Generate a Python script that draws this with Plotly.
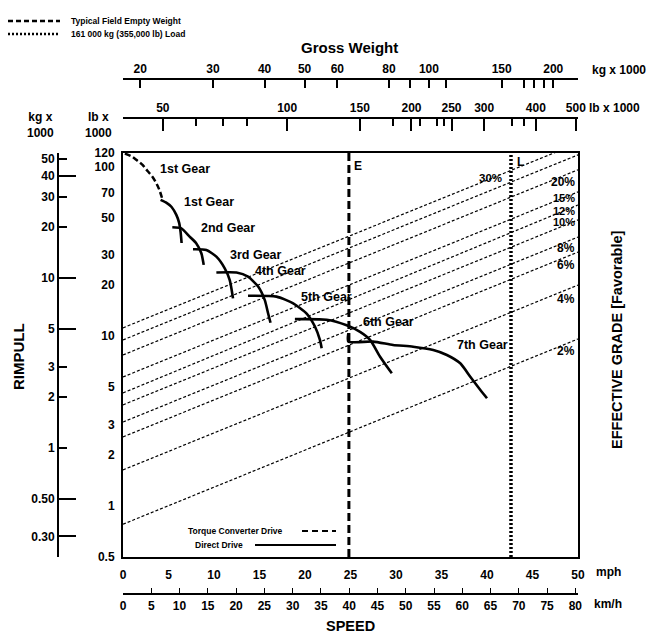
import math
import plotly.graph_objects as go

# ---------------- data ----------------
# speed axis (mph) and rimpull (lb x 1000)
speed_ticks_mph = [0, 5, 10, 15, 20, 25, 30, 35, 40, 45, 50]
speed_ticks_kmh = [0, 5, 10, 15, 20, 25, 30, 35, 40, 45, 50, 55, 60, 65, 70, 75, 80]
rimpull_ticks_lb = [120, 100, 70, 50, 30, 20, 10, 5, 3, 2, 1, 0.5]
rimpull_ticks_kg = [50, 40, 30, 20, 10, 5, 3, 2, 1, 0.5, 0.3]
rimpull_text_kg = ["50", "40", "30", "20", "10", "5", "3", "2", "1", "0.50", "0.30"]
rimpull_long_kg = [40, 10, 5, 0.5, 0.3]
weight_ticks_kg = [20, 30, 40, 50, 60, 80, 100, 150, 200]
weight_minor_kg = [90, 110, 170, 180, 190]
weight_ticks_lb = [50, 100, 150, 200, 250, 300, 400, 500]
weight_minor_lb = [60, 70, 80, 180, 210, 230, 240, 350, 375]

# torque converter drive, 1st gear
tc1_mph = [0.2, 0.9, 1.5, 2.15, 2.7, 3.25, 3.7, 4.0, 4.35]
tc1_klb = [119, 115, 109, 102, 94, 86.7, 78.9, 72.7, 63.5]

# direct drive gears
gear1_mph = [4.13, 4.79, 5.34, 5.86, 6.17, 6.33, 6.44]
gear1_klb = [63.5, 61.0, 57.7, 51.8, 46.5, 41.1, 35.4]
gear2_mph = [5.42, 6.41, 7.32, 8.06, 8.61, 8.87]
gear2_klb = [43.8, 43.2, 38.6, 35.2, 30.8, 26.3]
gear3_mph = [7.69, 9.16, 10.26, 11.18, 11.73, 12.09]
gear3_klb = [32.5, 32.2, 29.4, 25.1, 21.4, 16.7]
gear4_mph = [10.26, 12.47, 13.74, 14.85, 15.58, 15.95, 16.21]
gear4_klb = [23.7, 23.7, 22.4, 19.6, 16.3, 13.6, 12.0]
gear5_mph = [13.74, 16.87, 18.70, 20.18, 21.09, 21.64, 21.83]
gear5_klb = [17.3, 17.1, 15.6, 13.6, 11.4, 9.5, 8.5]
gear6_mph = [18.89, 22.38, 24.58, 26.05, 27.15, 28.25, 29.54]
gear6_klb = [12.6, 12.5, 11.6, 10.6, 9.5, 7.57, 6.04]
gear7_mph = [24.76, 24.76, 27.48, 29.68, 31.88, 34.09, 35.59, 37.06, 38.16, 39.27, 40.0]
gear7_klb = [10.4, 9.29, 9.29, 8.88, 8.67, 8.29, 7.75, 6.92, 5.77, 4.82, 4.31]

gear_names = ["1st Gear", "1st Gear", "2nd Gear", "3rd Gear", "4th Gear",
              "5th Gear", "6th Gear", "7th Gear"]
gear_label_mph = [6.77, 9.42, 11.51, 14.59, 17.35, 22.41, 29.13, 39.48]
gear_label_klb = [96.7, 61.8, 43.4, 30.1, 24.2, 17.0, 12.1, 8.89]

# effective grade lines: rimpull at 0 mph and at 50 mph
grade_names = ["30%", "25%", "20%", "15%", "12%", "10%", "8%", "6%", "4%", "2%"]
grade_left_klb = [11.2, 9.5, 7.75, 5.75, 4.63, 3.94, 3.12, 2.55, 1.63, 0.78]
grade_right_klb = [137, 117, 95.5, 70.8, 59.3, 48.4, 38.4, 31.3, 20.0, 9.63]
grade_label_text = ["20%", "15%", "12%", "10%", "8%", "6%", "4%", "2%"]
grade_label_klb = [81.0, 65.0, 55.0, 47.0, 33.1, 26.3, 16.6, 8.18]
grade_label_size = [12, 11, 11, 11, 12, 12, 12, 12]
grade30_label = ("30%", 40.4, 85.5)

# gross weight markers (kg x 1000)
empty_weight_kg = 64.0
loaded_weight_kg = 158.0
legend_names = ["Typical Field Empty Weight", "161 000 kg (355,000 lb) Load"]

KG_PER_LB = 0.45359237
KMH_PER_MPH = 1.609344

# ---------------- layout geometry ----------------
W, H = 657, 637
def px(x):
    return x / W
def py(y):
    return 1 - y / H

x_dom = [px(123), px(578)]
y_dom = [py(557), py(153)]
y_range = [math.log10(0.5), math.log10(120)]
kg_y_range = [math.log10(0.5 * KG_PER_LB), math.log10(120 * KG_PER_LB)]
wt_left = 1.2592
wt_span = 1.1017
wkg_range = [wt_left, wt_left + wt_span]
wlb_range = [wt_left + math.log10(1 / KG_PER_LB), wt_left + wt_span + math.log10(1 / KG_PER_LB)]

FONT = "Liberation Sans, Arial, Helvetica, sans-serif"
def f(size):
    return dict(family=FONT, size=size, color="black", weight="bold")

E_DASH = "8px,4px"
L_DASH = "2px,2px"

fig = go.Figure()

# grade lines
for g, l, r in zip(grade_names, grade_left_klb, grade_right_klb):
    fig.add_trace(go.Scatter(x=[0, 50], y=[l, r], mode="lines",
                             line=dict(color="black", width=1.2, dash="3px,2px"),
                             showlegend=False, hoverinfo="skip", name=g))

# torque converter
fig.add_trace(go.Scatter(x=tc1_mph, y=tc1_klb, mode="lines",
                         line=dict(color="black", width=2.5, dash="6px,3px", shape="spline"),
                         showlegend=False, hoverinfo="skip"))
for xs, ys in [(gear1_mph, gear1_klb), (gear2_mph, gear2_klb), (gear3_mph, gear3_klb),
               (gear4_mph, gear4_klb), (gear5_mph, gear5_klb), (gear6_mph, gear6_klb),
               (gear7_mph, gear7_klb)]:
    fig.add_trace(go.Scatter(x=xs, y=ys, mode="lines",
                             line=dict(color="black", width=2.6, shape="spline", smoothing=0.6),
                             showlegend=False, hoverinfo="skip"))

# E and L lines on the gross weight axis
fig.add_trace(go.Scatter(x=[empty_weight_kg, empty_weight_kg], y=[0.5, 120], xaxis="x2", yaxis="y",
                         mode="lines", line=dict(color="black", width=3, dash=E_DASH),
                         name=legend_names[0], hoverinfo="skip", showlegend=False))
fig.add_trace(go.Scatter(x=[loaded_weight_kg, loaded_weight_kg], y=[0.5, 120], xaxis="x2", yaxis="y",
                         mode="lines", line=dict(color="black", width=3.5, dash=L_DASH),
                         name=legend_names[1], hoverinfo="skip", showlegend=False))

# anchor traces for secondary scales (invisible)
for xa, ya in [("x3", "y"), ("x4", "y"), ("x", "y2"), ("x", "y3")]:
    fig.add_trace(go.Scatter(x=[20 if xa != "x3" else 100], y=[1], xaxis=xa, yaxis=ya, mode="markers",
                             marker=dict(opacity=0), showlegend=False, hoverinfo="skip"))

ann = []
for t, xm, yk in zip(gear_names, gear_label_mph, gear_label_klb):
    ann.append(dict(x=xm, y=math.log10(yk), xref="x", yref="y", text=t, showarrow=False, font=f(12.5)))
for t, yk, s in zip(grade_label_text, grade_label_klb, grade_label_size):
    ann.append(dict(x=49.8, y=math.log10(yk), xref="x", yref="y", text=t, showarrow=False,
                    xanchor="right", font=f(s), borderpad=0))
ann.append(dict(x=grade30_label[1], y=math.log10(grade30_label[2]), xref="x", yref="y",
                text=grade30_label[0], showarrow=False, font=f(11.5)))
ann.append(dict(x=math.log10(empty_weight_kg), y=math.log10(100), xref="x2", yref="y", text="E",
                showarrow=False, xanchor="left", xshift=3, font=f(12)))
ann.append(dict(x=math.log10(loaded_weight_kg), y=math.log10(106), xref="x2", yref="y", text="L",
                showarrow=False, xanchor="left", xshift=4, font=f(12)))

def pa(x, y, text, size, xanchor="center", yanchor="middle", angle=0):
    ann.append(dict(x=px(x), y=py(y), xref="paper", yref="paper", text=text, showarrow=False,
                    xanchor=xanchor, yanchor=yanchor, textangle=angle, font=f(size)))

pa(349, 47, "Gross Weight", 15)
pa(590, 70, "kg x 1000", 12, xanchor="left")
pa(587, 108, "lb x 1000", 12, xanchor="left")
pa(40, 125, "kg x<br>1000", 12)
pa(98, 125, "lb x<br>1000", 12)
pa(594, 572, "mph", 12, xanchor="left")
pa(592, 604, "km/h", 12, xanchor="left")
pa(350, 626, "SPEED", 14.5)
pa(18, 357, "RIMPULL", 15, angle=-90)
pa(617, 340, "EFFECTIVE GRADE [Favorable]", 14.5, angle=-90)
pa(285, 531, "Torque Converter Drive", 8.5, xanchor="right")
pa(245, 545, "Direct Drive", 8.5, xanchor="right")
pa(69, 21, legend_names[0], 8.5, xanchor="left")
pa(69, 34, legend_names[1], 8.5, xanchor="left")

shapes = [
    dict(type="line", xref="paper", yref="paper", x0=px(302), x1=px(336), y0=py(531), y1=py(531),
         line=dict(color="black", width=2.2, dash="6px,4px")),
    dict(type="line", xref="paper", yref="paper", x0=px(255), x1=px(336), y0=py(545), y1=py(545),
         line=dict(color="black", width=2.2)),
    dict(type="line", xref="paper", yref="paper", x0=px(8), x1=px(60), y0=py(21), y1=py(21),
         line=dict(color="black", width=2.5, dash="5px,3px")),
    dict(type="line", xref="paper", yref="paper", x0=px(8), x1=px(60), y0=py(34), y1=py(34),
         line=dict(color="black", width=2.5, dash=L_DASH)),
]

fig.update_layout(
    width=W, height=H, autosize=False,
    margin=dict(l=0, r=0, t=0, b=0, pad=0, autoexpand=False),
    paper_bgcolor="white", plot_bgcolor="white",
    font=dict(family=FONT, color="black"),
    showlegend=False,
    annotations=ann, shapes=shapes,
    xaxis=dict(domain=x_dom, range=[0, 50], showgrid=False, zeroline=False,
               showline=True, mirror=True, linecolor="black", linewidth=2,
               tickvals=speed_ticks_mph, ticks="", tickfont=f(12), ticklabelstandoff=6),
    yaxis=dict(domain=y_dom, type="log", range=y_range, showgrid=False, zeroline=False,
               showline=True, mirror=True, linecolor="black", linewidth=2,
               tickvals=rimpull_ticks_lb, ticktext=[str(v) for v in rimpull_ticks_lb],
               ticks="", tickfont=f(12), ticklabelstandoff=4),
    xaxis2=dict(overlaying="x", anchor="free", position=py(79), side="top", type="log",
                range=wkg_range, showgrid=False, zeroline=False, showline=True,
                linecolor="black", linewidth=1.5, ticks="inside", ticklen=8, tickwidth=1.5,
                tickcolor="black", tickvals=[18.25] + weight_ticks_kg + [229],
                ticktext=[""] + [str(v) for v in weight_ticks_kg] + [""], tickfont=f(12),
                minor=dict(tickvals=weight_minor_kg, ticks="inside", ticklen=8, tickcolor="black")),
    xaxis3=dict(overlaying="x", anchor="free", position=py(118), side="top", type="log",
                range=wlb_range, showgrid=False, zeroline=False, showline=True,
                linecolor="black", linewidth=1.5, ticks="inside", ticklen=12, tickwidth=1.5,
                tickcolor="black", tickvals=weight_ticks_lb,
                ticktext=[str(v) for v in weight_ticks_lb], tickfont=f(12),
                minor=dict(tickvals=weight_minor_lb, ticks="inside", ticklen=7, tickcolor="black")),
    xaxis4=dict(overlaying="x", anchor="free", position=py(594), side="bottom",
                range=[0, 50 * KMH_PER_MPH], showgrid=False, zeroline=False, showline=True,
                linecolor="black", linewidth=1.5, ticks="inside", ticklen=5, tickwidth=1.2,
                tickcolor="black", tickvals=speed_ticks_kmh, tickfont=f(12), ticklabelstandoff=1),
    yaxis2=dict(overlaying="y", anchor="free", position=px(58), side="left", type="log",
                range=kg_y_range, showgrid=False, zeroline=False, showline=True,
                linecolor="black", linewidth=2, ticks="inside", ticklen=8, tickwidth=1.5,
                tickcolor="black", tickvals=rimpull_ticks_kg, ticktext=rimpull_text_kg,
                tickfont=f(12)),
    yaxis3=dict(overlaying="y", anchor="free", position=px(58), side="left", type="log",
                range=kg_y_range, showgrid=False, zeroline=False, showline=False,
                ticks="inside", ticklen=17, tickwidth=1.5, tickcolor="black",
                tickvals=rimpull_long_kg, showticklabels=False),
)

fig.write_html("out.html")
